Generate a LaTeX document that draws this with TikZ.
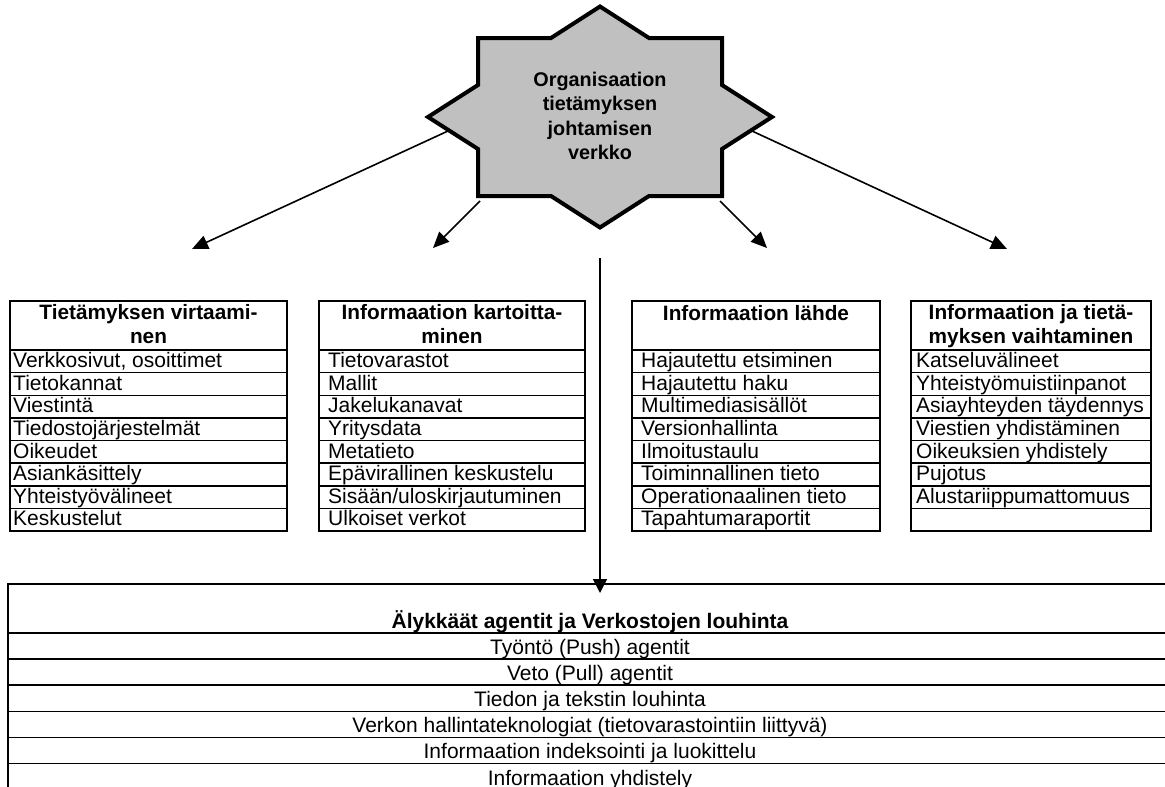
\documentclass[tikz,border=0pt]{standalone}
\usepackage{fontspec}
\setmainfont{Liberation Sans}
\usetikzlibrary{arrows.meta}
\definecolor{starfill}{RGB}{192,192,192}

% one list table: name, left x, right x, text indent, header, baseline of its last line, items
\newcommand\kmtable[7]{%
  \draw[frame] (#2,301) rectangle (#3,531);
  \draw[frame] (#2,350) -- (#3,350);
  \foreach \k in {1,...,7}
    \draw[frame] (#2,{350+\k*22.625}) -- (#3,{350+\k*22.625});
  \node[hdr] (#1h) at ({(#2+#3)/2},#6) {#5};
  \foreach \t [count=\k] in {#7}
    \node[item] (#1r\k) at ({#2+#4},{350+(\k-1)*22.625+17.5}) {\t};
}

\begin{document}
\begin{tikzpicture}[x=1pt,y=-1pt,
  frame/.style={draw=black,line width=1.5pt},
  hdr/.style={font=\bfseries\fontsize{20.8}{23.5}\selectfont,align=center,anchor=base,inner sep=0pt},
  item/.style={font=\fontsize{21}{24}\selectfont,anchor=base west,inner sep=0pt},
  botitem/.style={font=\fontsize{21}{24}\selectfont,anchor=base,inner sep=0pt},
  arr/.style={line width=1.6pt,-{Triangle[length=16pt,width=14pt]}},
  hubtext/.style={font=\bfseries\fontsize{19.8}{24.5}\selectfont,align=center,inner sep=0pt}]
\useasboundingbox (0,0) rectangle (1165,787);
\clip (0,0) rectangle (1165,787);

% eight-pointed star: rectangle over a diamond
\filldraw[fill=starfill,draw=black,line width=4pt,line join=miter]
  (600,6.5) -- (649,38) -- (722,38) -- (722,85) -- (772,117) -- (722,149)
  -- (722,196) -- (649,196) -- (600,227.5) -- (551,196) -- (478,196)
  -- (478,149) -- (428,117) -- (478,85) -- (478,38) -- (551,38) -- cycle;
\node[hubtext] (hub) at (600,116) {Organisaation\\tietämyksen\\johtamisen\\verkko};

% arrow ends on the star outline and above the tables
\coordinate (s1) at (448,131);
\coordinate (s2) at (480,201);
\coordinate (s3) at (720,201);
\coordinate (s4) at (752,131);
\coordinate (e1) at (192,249);
\coordinate (e2) at (433,248);
\coordinate (e3) at (767,248);
\coordinate (e4) at (1007,249);
\coordinate (vtop) at (600,258);
\coordinate (vtip) at (600,593);

\draw[arr] (s1) -- (e1);
\draw[arr] (s2) -- (e2);
\draw[arr] (s3) -- (e3);
\draw[arr] (s4) -- (e4);

% the four lists
\kmtable{ta}{10}{287}{3}{Tietämyksen virtaami-\\nen}{343}
  {{Verkkosivut, osoittimet},Tietokannat,Viestintä,Tiedostojärjestelmät,Oikeudet,Asiankäsittely,Yhteistyövälineet,Keskustelut}
\kmtable{tb}{319}{585}{9}{Informaation kartoitta-\\minen}{343}
  {Tietovarastot,Mallit,Jakelukanavat,Yritysdata,Metatieto,Epävirallinen keskustelu,Sisään/uloskirjautuminen,Ulkoiset verkot}
\kmtable{tc}{632}{880}{9}{Informaation lähde}{320}
  {Hajautettu etsiminen,Hajautettu haku,Multimediasisällöt,Versionhallinta,Ilmoitustaulu,Toiminnallinen tieto,Operationaalinen tieto,Tapahtumaraportit}
\kmtable{td}{911}{1151}{5}{Informaation ja tietä-\\myksen vaihtaminen}{343}
  {Katseluvälineet,Yhteistyömuistiinpanot,Asiayhteyden täydennys,Viestien yhdistäminen,Oikeuksien yhdistely,Pujotus,Alustariippumattomuus}

% wide table at the bottom
\draw[frame] (1175,584) -- (8,584) -- (8,800);
\foreach \k in {0,...,5}
  \draw[frame] (8,{633+\k*26.1}) -- (1175,{633+\k*26.1});
\node[botitem,font=\bfseries\fontsize{21}{24}\selectfont] (bh) at (590,628) {Älykkäät agentit ja Verkostojen louhinta};
\foreach \t [count=\k] in {Työntö (Push) agentit,Veto (Pull) agentit,Tiedon ja tekstin louhinta,Verkon hallintateknologiat (tietovarastointiin liittyvä),Informaation indeksointi ja luokittelu,Informaation yhdistely}
  \node[botitem] (b\k) at (590,{633+(\k-1)*26.1+21.5}) {\t};

\draw[arr,-{Triangle[length=14pt,width=14pt]}] (vtop) -- (vtip);
\end{tikzpicture}
\end{document}
